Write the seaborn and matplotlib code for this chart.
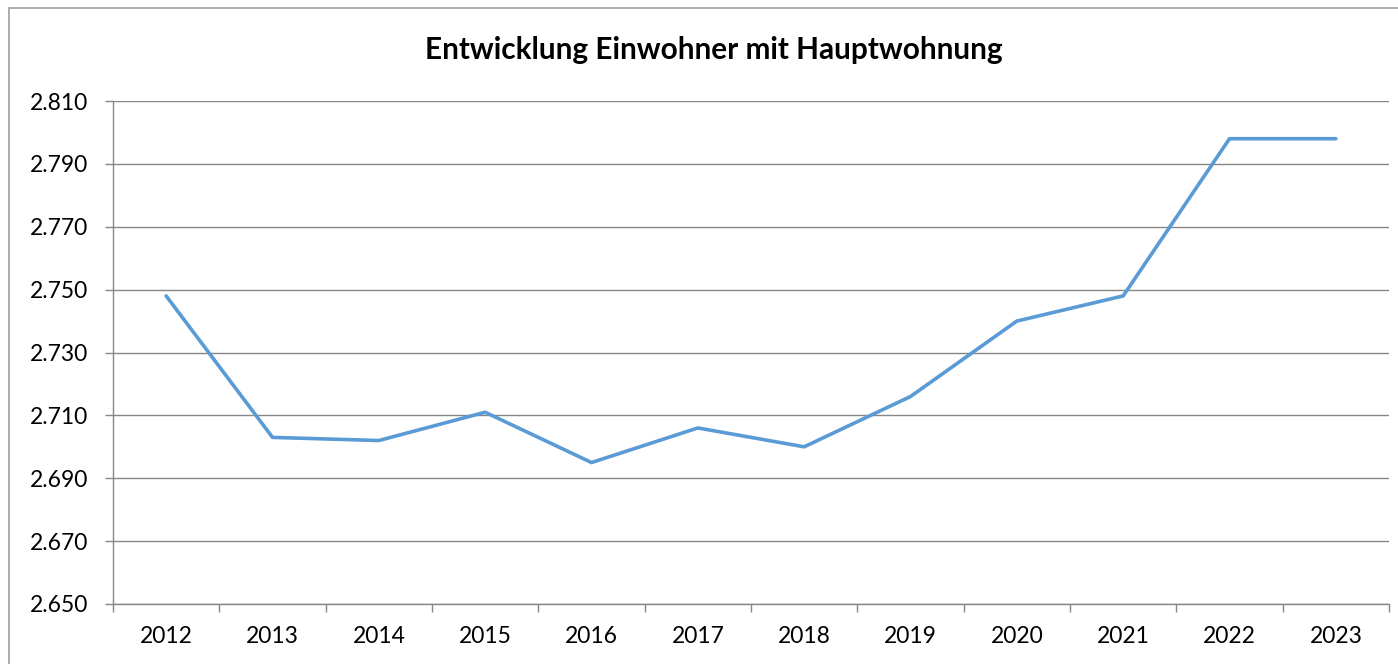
import matplotlib
matplotlib.use('Agg')
from matplotlib import pyplot as plt
from matplotlib.ticker import FixedLocator, FuncFormatter
from matplotlib.lines import Line2D
import seaborn as sns
import pandas as pd

# Einwohner mit Hauptwohnung
years = [2012, 2013, 2014, 2015, 2016, 2017, 2018, 2019, 2020, 2021, 2022, 2023]
residents = [2748, 2703, 2702, 2711, 2695, 2706, 2700, 2716, 2740, 2748, 2798, 2798]
y_ticks = [2650, 2670, 2690, 2710, 2730, 2750, 2770, 2790, 2810]
title = 'Entwicklung Einwohner mit Hauptwohnung'

grid_col = '#868686'
line_col = '#5B9BD5'

sns.set_theme(style='white')
plt.rcParams['font.family'] = ['Lato', 'DejaVu Sans']

df = pd.DataFrame({'Jahr': years, 'Einwohner': residents})

fig = plt.figure(figsize=(13.98, 6.64), dpi=100)
ax = fig.add_axes([113 / 1398, 1 - 604 / 664, (1389 - 113) / 1398, (604 - 101) / 664])

sns.lineplot(data=df, x='Jahr', y='Einwohner', color=line_col,
             linewidth=2.6, ax=ax)

ax.set_xlim(years[0] - 0.5, years[-1] + 0.5)
ax.set_ylim(y_ticks[0], y_ticks[-1])
ax.set_yticks(y_ticks)
# deutsche Tausendertrennung: 2.810
ax.yaxis.set_major_formatter(FuncFormatter(
    lambda v, p: '{:,.0f}'.format(v).replace(',', '.')))
ax.set_xticks(years)
ax.set_xticklabels([str(y) for y in years])
ax.xaxis.set_minor_locator(FixedLocator([y - 0.5 for y in years] + [years[-1] + 0.5]))

ax.grid(axis='y', color=grid_col, linewidth=1.0)
ax.grid(axis='x', visible=False)
ax.set_axisbelow(True)

for side in ['top', 'right']:
    ax.spines[side].set_visible(False)
for side in ['left', 'bottom']:
    ax.spines[side].set_color(grid_col)
    ax.spines[side].set_linewidth(1.0)

ax.tick_params(axis='y', which='major', length=6, width=1.0, color=grid_col,
               direction='out', left=True, pad=12, labelsize=16.5,
               labelcolor='black')
ax.tick_params(axis='x', which='major', length=0, pad=16, labelsize=16.5,
               labelcolor='black')
ax.tick_params(axis='x', which='minor', length=6, width=1.0, color=grid_col,
               direction='out', bottom=True)

ax.set_xlabel('')
ax.set_ylabel('')

fig.text(714 / 1398, 1 - 50 / 664, title, ha='center', va='center',
         fontsize=21.4, fontweight='bold', color='black')

# Rahmen des Diagrammbereichs (oben und links sichtbar)
fig.add_artist(Line2D([9 / 1398, 1.0], [1 - 8 / 664, 1 - 8 / 664],
                      transform=fig.transFigure, color='#A6A6A6', linewidth=1.3))
fig.add_artist(Line2D([9 / 1398, 9 / 1398], [0.0, 1 - 8 / 664],
                      transform=fig.transFigure, color='#A6A6A6', linewidth=1.3))

fig.savefig('out.png', dpi=100)
plt.close(fig)
